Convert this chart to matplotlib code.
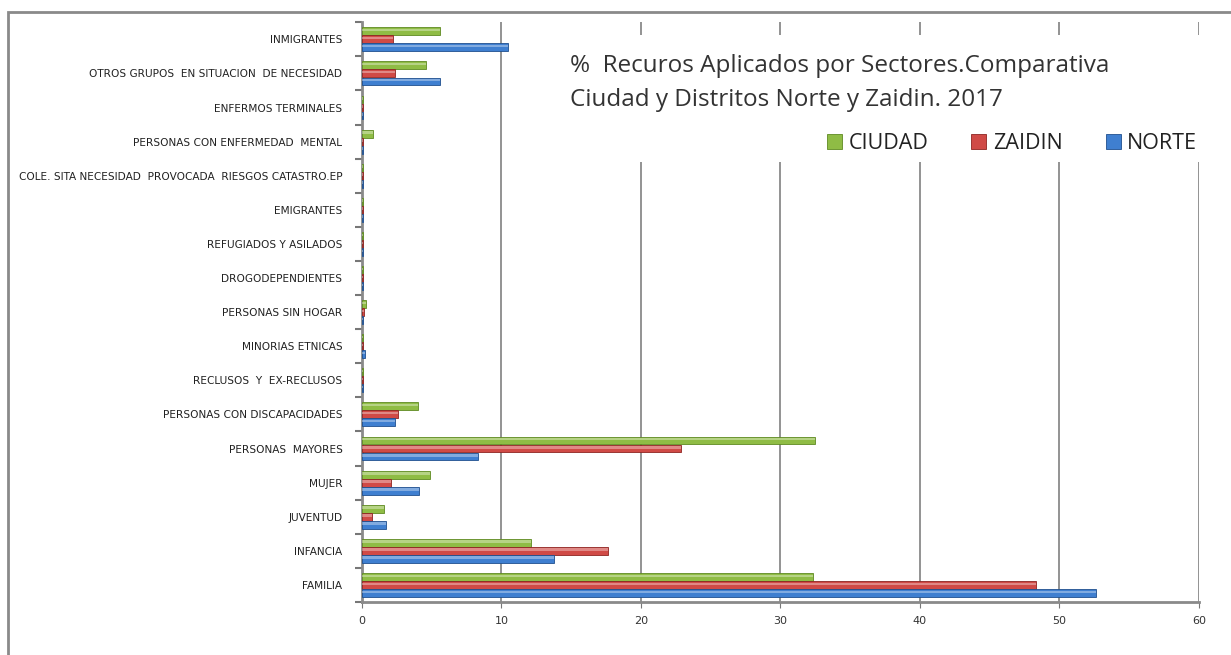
import numpy as np
import matplotlib.pyplot as plt
from matplotlib.patches import Rectangle

# categories from bottom to top
categorias = ['FAMILIA', 'INFANCIA', 'JUVENTUD', 'MUJER', 'PERSONAS  MAYORES',
              'PERSONAS CON DISCAPACIDADES', 'RECLUSOS  Y  EX-RECLUSOS',
              'MINORIAS ETNICAS', 'PERSONAS SIN HOGAR', 'DROGODEPENDIENTES',
              'REFUGIADOS Y ASILADOS', 'EMIGRANTES',
              'COLE. SITA NECESIDAD  PROVOCADA  RIESGOS CATASTRO.EP',
              'PERSONAS CON ENFERMEDAD  MENTAL', 'ENFERMOS TERMINALES',
              'OTROS GRUPOS  EN SITUACION  DE NECESIDAD', 'INMIGRANTES']

ciudad = [32.3, 12.1, 1.6, 4.9, 32.5, 4.05, 0.05, 0.05, 0.3, 0.1, 0.05, 0.05, 0.05, 0.8, 0.05, 4.6, 5.6]
zaidin = [48.3, 17.65, 0.7, 2.1, 22.9, 2.6, 0.05, 0.05, 0.15, 0.1, 0.05, 0.05, 0.05, 0.1, 0.05, 2.4, 2.2]
norte = [52.6, 13.8, 1.7, 4.1, 8.3, 2.4, 0.05, 0.2, 0.1, 0.05, 0.05, 0.05, 0.05, 0.1, 0.05, 5.6, 10.5]

series = [('CIUDAD', ciudad, '#8fbc45', '#5f8a22'),
          ('ZAIDIN', zaidin, '#d04a46', '#8e2522'),
          ('NORTE', norte, '#3f7fd0', '#20508e')]

fig = plt.figure(figsize=(12.31, 6.55), dpi=100)
ax = fig.add_axes([0.294, 0.081, 0.680, 0.885])

y = np.arange(len(categorias))
offsets = [0.235, 0.0, -0.235]
h = 0.23
handles = []
for (name, vals, col, edge), off in zip(series, offsets):
    b = ax.barh(y + off, vals, height=h, color=col, edgecolor=edge, linewidth=0.6, zorder=3, label=name)
    # light highlight to imitate the cylinder look
    ax.barh(y + off + h * 0.15, vals, height=h * 0.3, color='white', alpha=0.35, linewidth=0, zorder=4)
    handles.append(b)

ax.set_xlim(0, 60)
ax.set_ylim(-0.5, len(categorias) - 0.5)
ax.set_xticks(range(0, 61, 10))
ax.set_yticks(y)
ax.set_yticklabels(categorias, fontsize=7.6, color='#222222')
ax.set_yticks(np.arange(-0.5, len(categorias), 1), minor=True)
ax.tick_params(axis='y', which='major', length=0, pad=14)
ax.tick_params(axis='y', which='minor', length=5, color='#777777', width=1.5)
ax.tick_params(axis='x', labelsize=8, color='#777777', length=4, pad=6, labelcolor='#333333')
ax.grid(axis='x', color='#808080', linewidth=1.2, zorder=1)
for s in ['top', 'right']:
    ax.spines[s].set_visible(False)
for s in ['left', 'bottom']:
    ax.spines[s].set_color('#8a8a8a')
    ax.spines[s].set_linewidth(2)

# white area behind title and legend hides the gridlines
ax.add_patch(Rectangle((14.2, 12.4), 46.5, 3.72, facecolor='white', edgecolor='none', zorder=2, clip_on=False))

ax.text(14.9, 15.57, '%  Recuros Aplicados por Sectores.Comparativa\nCiudad y Distritos Norte y Zaidin. 2017',
        fontsize=17.5, color='#333333', family='Open Sans', va='top', ha='left', linespacing=1.58, zorder=5)

leg = ax.legend(handles=handles, loc='center right', bbox_to_anchor=(1.008, 0.791), ncol=3, frameon=False,
                prop={'family': 'Open Sans', 'size': 15.5}, handlelength=0.7, handleheight=0.7,
                handletextpad=0.3, columnspacing=2.0, borderaxespad=0)
for t in leg.get_texts():
    t.set_color('#222222')

# outer chart border
fig.patches.append(Rectangle((8 / 1231, -0.1), 1.1, 1.1 - 12 / 655, transform=fig.transFigure,
                             facecolor='none', edgecolor='#8a8a8a', linewidth=2))

fig.savefig('out.png', dpi=100)
